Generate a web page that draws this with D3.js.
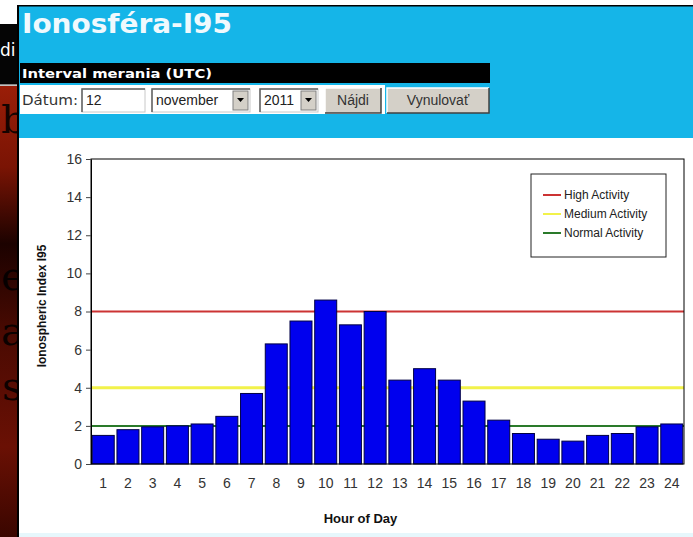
<!DOCTYPE html>
<html>
<head>
<meta charset="utf-8">
<script src="https://cdn.jsdelivr.net/npm/d3@7"></script>
<style>
  body { margin: 0; background: #fff; }
  svg { display: block; }
</style>
</head>
<body>
<svg id="chart" width="693" height="537"></svg>
<script>
// hour of day (UTC) and the I95 index
var hours = ["1","2","3","4","5","6","7","8","9","10","11","12","13","14","15","16","17","18","19","20","21","22","23","24"]
var i95 = [1.5, 1.8, 1.95, 2.0, 2.1, 2.5, 3.7, 6.3, 7.5, 8.6, 7.3, 8.0, 4.4, 5.0, 4.4, 3.3, 2.3, 1.6, 1.3, 1.2, 1.5, 1.6, 1.95, 2.1]
var yTicks = [0, 2, 4, 6, 8, 10, 12, 14, 16]

var levelNames = ["High Activity", "Medium Activity", "Normal Activity"]
var levelValues = [8, 4, 2]
var levelColors = ["#cc3333", "#f2f24a", "#2a7a2a"]

var svg = d3.select("#chart")

// ---- page around the chart ----
var defs = svg.append("defs")
var grad = defs.append("linearGradient").attr("id", "redbg")
    .attr("x1", 0).attr("y1", 0).attr("x2", 0).attr("y2", 1)
grad.append("stop").attr("offset", "0%").attr("stop-color", "#9a1e08")
grad.append("stop").attr("offset", "18%").attr("stop-color", "#7a1404")
grad.append("stop").attr("offset", "35%").attr("stop-color", "#1c0200")
grad.append("stop").attr("offset", "55%").attr("stop-color", "#4a0a02")
grad.append("stop").attr("offset", "80%").attr("stop-color", "#6a1004")
grad.append("stop").attr("offset", "100%").attr("stop-color", "#3a0600")

// left strip (other page behind), its letters are hidden in part by the panel
svg.append("rect").attr("x", 0).attr("y", 0).attr("width", 18).attr("height", 24).attr("fill", "#fff")
svg.append("rect").attr("x", 0).attr("y", 24).attr("width", 18).attr("height", 60).attr("fill", "#050505")
svg.append("text").attr("x", 0).attr("y", 56).attr("fill", "#fff")
    .style("font", "17px 'DejaVu Sans', sans-serif").text("di")
svg.append("rect").attr("x", 0).attr("y", 84).attr("width", 18).attr("height", 1.5).attr("fill", "#888")
svg.append("rect").attr("x", 0).attr("y", 86).attr("width", 18).attr("height", 451).attr("fill", "url(#redbg)")
var bigLetters = [["b", 1, 133], ["e", 1, 290], ["a", 1, 345], ["s", 2, 400]]
svg.selectAll(".bigletter").data(bigLetters).enter().append("text")
    .attr("class", "bigletter")
    .attr("x", d => d[1]).attr("y", d => d[2])
    .attr("fill", "#000").attr("opacity", 0.85)
    .style("font", "40px 'DejaVu Serif', serif")
    .text(d => d[0])

// cyan panel
svg.append("rect").attr("x", 18).attr("y", 0).attr("width", 675).attr("height", 5).attr("fill", "#fff")
svg.append("rect").attr("x", 18).attr("y", 5).attr("width", 675).attr("height", 133).attr("fill", "#15b5e8")
svg.append("rect").attr("x", 18).attr("y", 5).attr("width", 675).attr("height", 1.5).attr("fill", "#000")
svg.append("rect").attr("x", 17).attr("y", 5).attr("width", 2).attr("height", 532).attr("fill", "#000")
svg.append("text").attr("x", 22).attr("y", 33).attr("fill", "#f0f9fd")
    .attr("textLength", 210).attr("lengthAdjust", "spacingAndGlyphs")
    .style("font", "bold 27px 'DejaVu Sans', Verdana, sans-serif").text("Ionosféra-I95")

svg.append("rect").attr("x", 20).attr("y", 63).attr("width", 470).attr("height", 20).attr("fill", "#000")
svg.append("text").attr("x", 22).attr("y", 78).attr("fill", "#fff")
    .attr("textLength", 190).attr("lengthAdjust", "spacingAndGlyphs")
    .style("font", "bold 13px 'DejaVu Sans', Verdana, sans-serif").text("Interval merania (UTC)")

svg.append("rect").attr("x", 20).attr("y", 85).attr("width", 365).attr("height", 29).attr("fill", "#fff")
svg.append("text").attr("x", 22).attr("y", 105).attr("fill", "#333")
    .attr("textLength", 56).attr("lengthAdjust", "spacingAndGlyphs")
    .style("font", "14px 'DejaVu Sans', Verdana, sans-serif").text("Dátum:")

function sunken(x, w, label, arrow) {
    svg.append("rect").attr("x", x).attr("y", 89).attr("width", w).attr("height", 23)
        .attr("fill", "#fff").attr("stroke", "#c8c8c8")
    svg.append("path").attr("d", `M${x},${112}V89H${x + w}`).attr("fill", "none").attr("stroke", "#606060").attr("stroke-width", 1.5)
    svg.append("text").attr("x", x + 4).attr("y", 105).attr("fill", "#222")
        .style("font", "14px 'Liberation Sans', Arial, sans-serif").text(label)
    if (arrow) {
        svg.append("rect").attr("x", x + w - 17).attr("y", 91).attr("width", 15).attr("height", 19)
            .attr("fill", "#d4d0c8").attr("stroke", "#808080")
        var cx = x + w - 9.5
        svg.append("path").attr("d", `M${cx - 3.5},98L${cx + 3.5},98L${cx},102Z`).attr("fill", "#000")
    }
}
sunken(82, 63, "12", false)
sunken(152, 98, "november", true)
sunken(260, 58, "2011", true)

function button(x, w, label) {
    svg.append("rect").attr("x", x).attr("y", 88).attr("width", w).attr("height", 25).attr("fill", "#d4d0c8")
    svg.append("path").attr("d", `M${x},${113}V88H${x + w}`).attr("fill", "none").attr("stroke", "#fff").attr("stroke-width", 1.5)
    svg.append("path").attr("d", `M${x},${113}H${x + w}V88`).attr("fill", "none").attr("stroke", "#404040").attr("stroke-width", 1.5)
    svg.append("text").attr("x", x + w / 2).attr("y", 105).attr("text-anchor", "middle").attr("fill", "#333")
        .style("font", "14px 'Liberation Sans', Arial, sans-serif").text(label)
}
button(325, 56, "Nájdi")
button(387, 102, "Vynulovať")

// white chart area
svg.append("rect").attr("x", 19).attr("y", 138).attr("width", 674).attr("height", 395).attr("fill", "#fff")
svg.append("rect").attr("x", 19).attr("y", 533).attr("width", 674).attr("height", 4).attr("fill", "#e6f7fc")

// ---- chart ----
var margin = { top: 159, left: 91, bottom: 464, right: 684 }

var x = d3.scaleBand()
    .domain(hours)
    .range([margin.left, margin.right])
    .paddingInner(0.11)
    .paddingOuter(0.05)

var y = d3.scaleLinear()
    .domain([0, 16])
    .range([margin.bottom, margin.top])

// threshold lines, behind the bars
svg.selectAll(".level").data(levelValues).enter().append("line")
    .attr("class", "level")
    .attr("x1", margin.left).attr("x2", margin.right)
    .attr("y1", d => y(d)).attr("y2", d => y(d))
    .attr("stroke", (d, i) => levelColors[i])
    .attr("stroke-width", (d, i) => i == 1 ? 3 : 2)

svg.selectAll(".bar").data(i95).enter().append("rect")
    .attr("class", "bar")
    .attr("x", (d, i) => x(hours[i]))
    .attr("y", d => y(d))
    .attr("width", x.bandwidth())
    .attr("height", d => y(0) - y(d))
    .attr("fill", "#0000ee")
    .attr("stroke", "#000044")
    .attr("stroke-width", 1)

// frame
svg.append("rect")
    .attr("x", margin.left).attr("y", margin.top)
    .attr("width", margin.right - margin.left).attr("height", margin.bottom - margin.top)
    .attr("fill", "none").attr("stroke", "#000").attr("stroke-width", 1)

var yAxis = svg.append("g")
    .attr("transform", `translate(${margin.left},0)`)
    .call(d3.axisLeft(y).tickValues(yTicks).tickSize(5).tickPadding(4).tickSizeOuter(0))
yAxis.select(".domain").attr("stroke", "#000")
yAxis.selectAll("line").attr("stroke", "#444")
yAxis.selectAll("text").attr("fill", "#333")
    .style("font", "14px 'Liberation Sans', Arial, sans-serif")

var xAxis = svg.append("g")
    .attr("transform", `translate(0,${margin.bottom})`)
    .call(d3.axisBottom(x).tickSize(0).tickPadding(14))
xAxis.select(".domain").remove()
xAxis.selectAll("text").attr("fill", "#333")
    .style("font", "14px 'Liberation Sans', Arial, sans-serif")

svg.append("text")
    .attr("x", (margin.left + margin.right) / 2 - 27).attr("y", 523)
    .attr("text-anchor", "middle").attr("fill", "#111")
    .style("font", "bold 13px 'Liberation Sans', Arial, sans-serif")
    .text("Hour of Day")

svg.append("text")
    .attr("transform", "translate(46,306) rotate(-90)")
    .attr("text-anchor", "middle").attr("fill", "#111")
    .style("font", "bold 12px 'Liberation Sans', Arial, sans-serif")
    .text("Ionospheric Index I95")

// legend
var legend = svg.append("g").attr("transform", "translate(531,174)")
legend.append("rect").attr("width", 135).attr("height", 83)
    .attr("fill", "#fff").attr("stroke", "#222")
var rows = legend.selectAll(".legrow").data(levelNames).enter().append("g")
    .attr("class", "legrow")
    .attr("transform", (d, i) => `translate(12,${21 + i * 19})`)
rows.append("line").attr("x1", 0).attr("x2", 18)
    .attr("stroke", (d, i) => levelColors[i]).attr("stroke-width", 2)
rows.append("text").attr("x", 21).attr("dy", "0.35em").attr("fill", "#222")
    .style("font", "12px 'Liberation Sans', Arial, sans-serif")
    .text(d => d)
</script>
</body>
</html>
